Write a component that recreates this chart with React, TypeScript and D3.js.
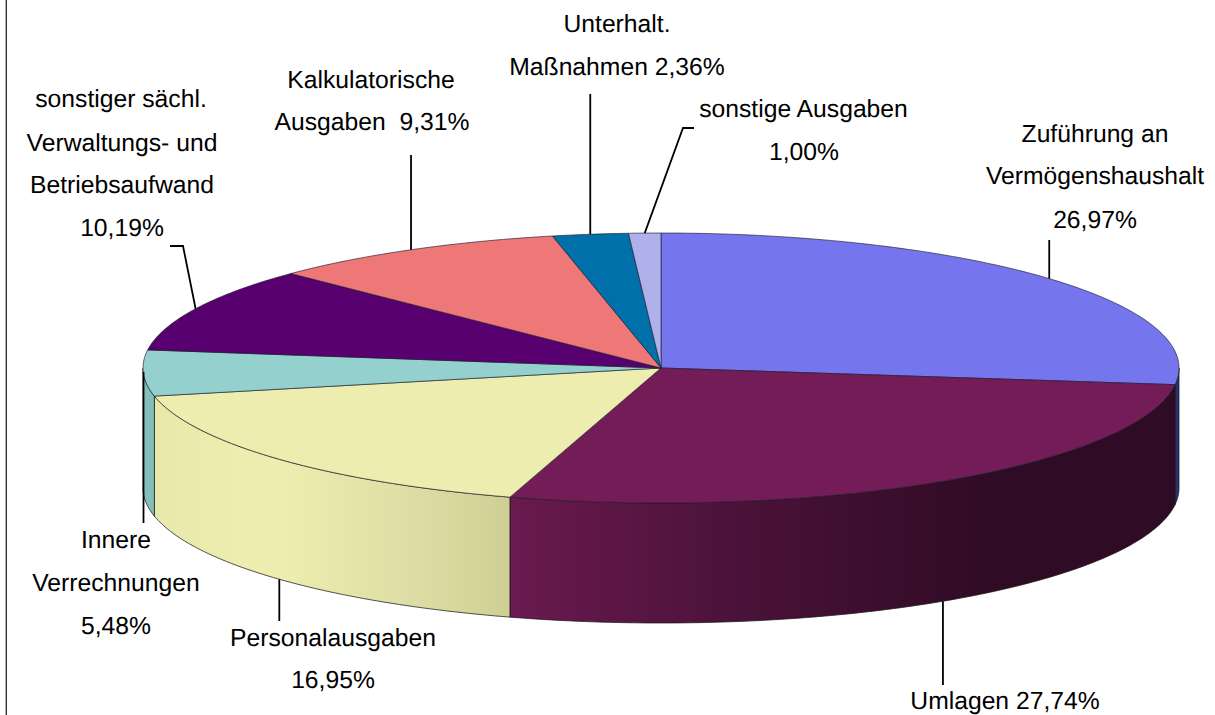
import React from "react";
import * as d3 from "d3";

const categories = ["Zuführung an Vermögenshaushalt", "Umlagen", "Personalausgaben", "Innere Verrechnungen", "sonstiger sächl. Verwaltungs- und Betriebsaufwand", "Kalkulatorische Ausgaben", "Unterhalt. Maßnahmen", "sonstige Ausgaben"];
const shares = [26.97, 27.74, 16.95, 5.48, 10.19, 9.31, 2.36, 1.0];
const topColors = ["#7575EE", "#741C58", "#EDEDB0", "#93D0CE", "#580070", "#EE7777", "#0070AA", "#B0B0EA"];
const sideStops: string[][] = [
  ["#2A2F72", "#2A2F72"],
  ["#300B25", "#300B25", "#4A1238", "#6A1A50"],
  ["#CFCF95", "#DEDEA6", "#ECECAE", "#EEEEB0", "#E8E8AA"],
  ["#86BEBC", "#86BEBC"],
  ["#580070", "#580070"],
  ["#EE7777", "#EE7777"],
  ["#0070AA", "#0070AA"],
  ["#B0B0EA", "#B0B0EA"],
];
const stopPositions: number[][] = [
  [0, 1],
  [0, 0.28, 0.65, 1],
  [0, 0.3, 0.6, 0.72, 1],
  [0, 1],
  [0, 1],
  [0, 1],
  [0, 1],
  [0, 1],
];

type Lab = { t: string; x: number; y: number };
const labelLines: Lab[] = [
  { t: "Unterhalt.", x: 617, y: 32 },
  { t: "Maßnahmen 2,36%", x: 617, y: 75 },
  { t: "sonstige Ausgaben", x: 803.5, y: 117 },
  { t: "1,00%", x: 804, y: 160 },
  { t: "Kalkulatorische", x: 371, y: 88 },
  { t: "Ausgaben  9,31%", x: 372, y: 130 },
  { t: "sonstiger sächl.", x: 121, y: 107 },
  { t: "Verwaltungs- und", x: 122, y: 151 },
  { t: "Betriebsaufwand", x: 122, y: 193 },
  { t: "10,19%", x: 122, y: 236 },
  { t: "Zuführung an", x: 1095, y: 142 },
  { t: "Vermögenshaushalt", x: 1095, y: 184 },
  { t: "26,97%", x: 1095, y: 228 },
  { t: "Innere", x: 116, y: 548 },
  { t: "Verrechnungen", x: 116, y: 591 },
  { t: "5,48%", x: 116, y: 634 },
  { t: "Personalausgaben", x: 333, y: 646 },
  { t: "16,95%", x: 333, y: 688 },
  { t: "Umlagen 27,74%", x: 1005, y: 709 },
];

const CX = 661;
const CY = 368;
const RX = 518;
const RY = 135;
const DEPTH = 120;

const px = (a: number) => CX + RX * Math.sin(a);
const py = (a: number) => CY - RY * Math.cos(a);

const pie = d3.pie<number>().sort(null).startAngle(0).endAngle(2 * Math.PI);
const arcs = pie(shares);
const line = d3.line<[number, number]>();

const samples = (a0: number, a1: number) => {
  const n = Math.max(2, Math.ceil((a1 - a0) * 60));
  return d3.range(n + 1).map((i) => a0 + ((a1 - a0) * i) / n);
};
const topPath = (a0: number, a1: number) => {
  const pts: [number, number][] = samples(a0, a1).map((a) => [px(a), py(a)]);
  return line([[CX, CY], ...pts]) + "Z";
};
const sidePath = (a0: number, a1: number) => {
  const s = samples(a0, a1);
  const upper: [number, number][] = s.map((a) => [px(a), py(a)]);
  const lower: [number, number][] = s.slice().reverse().map((a) => [px(a), py(a) + DEPTH]);
  return line([...upper, ...lower]) + "Z";
};

const F0 = Math.PI / 2;
const F1 = (3 * Math.PI) / 2;
const mid = (i: number) => (arcs[i].startAngle + arcs[i].endAngle) / 2;

const leaders: [number, number][][] = [
  [[px(mid(0)), py(mid(0))], [px(mid(0)), 240]],
  [[px(mid(1)), py(mid(1)) + DEPTH], [px(mid(1)), 685]],
  [[px(mid(2)), py(mid(2)) + DEPTH], [px(mid(2)), 621]],
  [[CX - RX + 0.5, 372], [CX - RX + 0.5, 523]],
  [[px(mid(4)), py(mid(4))], [183, 246], [170, 246]],
  [[px(mid(5)), py(mid(5))], [px(mid(5)), 155]],
  [[px(mid(6)), py(mid(6))], [px(mid(6)), 94]],
  [[px(mid(7)), py(mid(7))], [683, 128], [694, 128]],
];

export default function App() {
  return (
    <svg
      width={1215}
      height={715}
      style={{ position: "absolute", left: 0, top: 0, display: "block", background: "#fff" }}
    >
      <defs>
        {sideStops.map((stops, i) => {
          const a0 = Math.max(arcs[i].startAngle, F0);
          const a1 = Math.min(arcs[i].endAngle, F1);
          if (a1 <= a0) return null;
          const x0 = Math.min(px(a0), px(a1));
          const x1 = Math.max(px(a0), px(a1));
          const ordered = px(a0) > px(a1);
          return (
            <linearGradient key={i} id={`side${i}`} gradientUnits="userSpaceOnUse" x1={ordered ? x1 : x0} x2={ordered ? x0 : x1} y1={0} y2={0}>
              {stops.map((c, j) => (
                <stop key={j} offset={stopPositions[i][j]} stopColor={c} />
              ))}
            </linearGradient>
          );
        })}
      </defs>
      <line x1={6.3} x2={6.3} y1={0} y2={715} stroke="#222" strokeWidth={1.3} />
      <g>
        {arcs.map((d, i) => {
          const a0 = Math.max(d.startAngle, F0);
          const a1 = Math.min(d.endAngle, F1);
          if (a1 <= a0) return null;
          return <path key={categories[i]} d={sidePath(a0, a1)} fill={`url(#side${i})`} stroke="#1a1a1a" strokeOpacity={0.75} strokeWidth={1} />;
        })}
      </g>
      <g>
        {arcs.map((d, i) => (
          <path key={categories[i]} d={topPath(d.startAngle, d.endAngle)} fill={topColors[i]} stroke="#1a1a2a" strokeOpacity={0.7} strokeWidth={0.9} />
        ))}
      </g>
      <g fill="none" stroke="#000" strokeWidth={1.8}>
        {leaders.map((l, i) => (
          <path key={i} d={line(l) as string} />
        ))}
      </g>
      <g fontFamily="'Liberation Sans', Arial, sans-serif" fontSize={24.7} fill="#000" textAnchor="middle" textRendering="geometricPrecision">
        {labelLines.map((l) => (
          <text key={l.t} x={l.x} y={l.y} style={{ whiteSpace: "pre" }}>
            {l.t}
          </text>
        ))}
      </g>
    </svg>
  );
}
